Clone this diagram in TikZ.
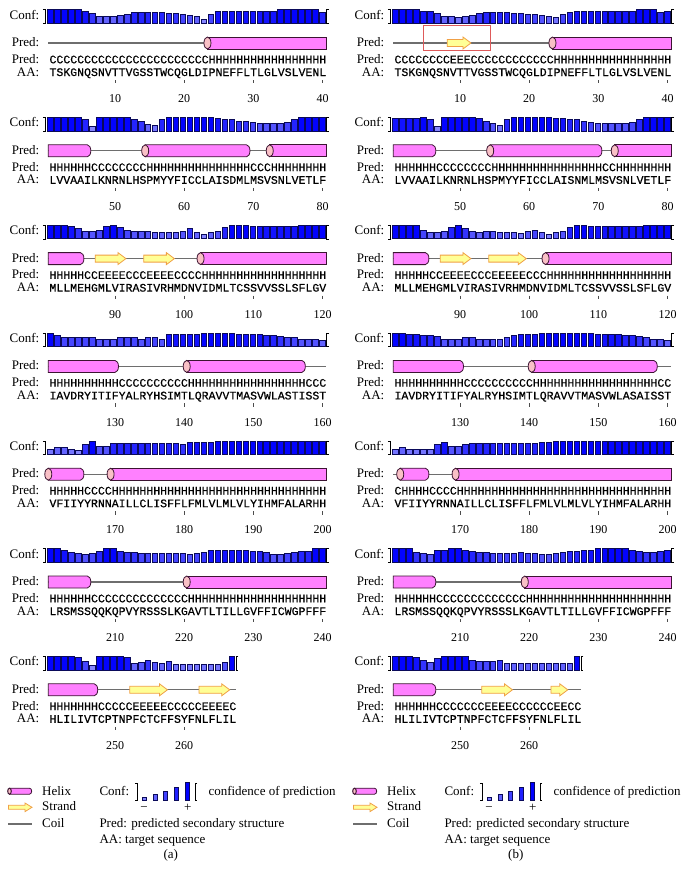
\documentclass[tikz,border=0pt]{standalone}
\usepackage{fontspec}
\setmainfont{Liberation Serif}
\newfontfamily\seqfont[FakeBold=0.6]{Liberation Mono}

\definecolor{helixpink}{RGB}{255,128,255}
\definecolor{cappink}{RGB}{249,192,198}
\definecolor{helixedge}{RGB}{60,20,50}
\definecolor{strandyellow}{RGB}{255,255,150}
\definecolor{strandedge}{RGB}{240,160,70}
\definecolor{coilgray}{RGB}{110,110,110}
\definecolor{barnavy}{RGB}{10,10,90}
\definecolor{boxred}{RGB}{222,90,90}

\tikzset{
  lbl/.style={font=\fontsize{13}{15}\selectfont, anchor=base east, inner sep=0pt},
  seq/.style={font=\seqfont\fontsize{11.53}{13}\selectfont, anchor=base west, inner sep=0pt},
  num/.style={font=\fontsize{12}{14}\selectfont, anchor=base, inner sep=0pt},
  legtext/.style={font=\fontsize{13}{15}\selectfont, anchor=base west, inner sep=0pt},
  confbar/.style={draw=barnavy, line width=0.6pt},
  helixbody/.style={fill=helixpink, draw=helixedge, line width=0.8pt},
  helixcap/.style={fill=cappink, draw=helixedge, line width=0.8pt},
  strandbody/.style={fill=strandyellow, draw=strandedge, line width=0.8pt},
  coilline/.style={draw=coilgray, line width=1.1pt},
  tickline/.style={draw=black!70, line width=0.7pt},
  bracketline/.style={draw=black, line width=0.7pt},
}

% confidence bars of one row: #1 values, #2 number of residues
\newcommand{\drawconf}[2]{%
  \foreach \cv [count=\bi] in {#1} {%
    \pgfmathtruncatemacro{\barpct}{42+6.4*\cv}%
    \filldraw[confbar, fill=blue!\barpct!white] ({47.7+(\bi-1)*6.97},7) rectangle ++(5.5,{-(3+1.15*\cv)});
  }%
  \draw[bracketline] (42.8,-6.3) -- (45,-6.3) -- (45,7.3) -- (42.8,7.3);
  \pgfmathsetmacro{\brx}{47.7+#2*6.97+0.3}%
  \draw[bracketline] ({\brx+2.2},-6.3) -- (\brx,-6.3) -- (\brx,7.3) -- ({\brx+2.2},7.3);
}

% one block: #1 panel, #2 row, #3 conf values, #4 residues, #5 pred, #6 sequence
\newcommand{\seqrow}[6]{%
  \node[lbl] (#1-conflbl-#2) at (39.5,3) {Conf:};
  \node[lbl] (#1-cartlbl-#2) at (39.5,30.5) {Pred:};
  \node[lbl] (#1-predlbl-#2) at (39.5,47.3) {Pred:};
  \node[lbl] (#1-aalbl-#2) at (39.5,60) {AA:};
  \drawconf{#3}{#4}
  \draw[coilline] (48,27) -- ({49.3+#4*6.92},27);
  \node[seq] (#1-pred-#2) at (49.3,47.3) {#5};
  \node[seq] (#1-aa-#2) at (49.3,60) {#6};
  \pgfmathtruncatemacro{\ntick}{#4/10}%
  \foreach \k in {1,...,\ntick} {%
    \pgfmathtruncatemacro{\numlab}{(#2-1)*40+10*\k}%
    \draw[tickline] ({52.76+(10*\k-1)*6.92},64) -- ++(0,3.3);
    \node[num] (#1-num-#2-\k) at ({52.76+(10*\k-1)*6.92},86.7) {\numlab};
  }%
}

% helix from residue #1 to #2, #3 = left cap, #4 = rounded end
\newcommand{\drawhelix}[4]{%
  \pgfmathsetmacro{\hxl}{49.3+(#1-1)*6.92-1}%
  \pgfmathsetmacro{\hxr}{49.3+#2*6.92}%
  \ifnum#4=1
    \filldraw[helixbody] (\hxl,21) -- ({\hxr-3.5},21) arc[start angle=-90, end angle=90, x radius=3.5, y radius=6] -- (\hxl,33) -- cycle;
  \else
    \filldraw[helixbody] (\hxl,21) rectangle (\hxr,33);
  \fi
  \ifnum#3=1
    \filldraw[helixcap] (\hxl,27) ellipse[x radius=3.5, y radius=6];
  \fi
}

% strand arrow from residue #1 to #2
\newcommand{\drawstrand}[2]{%
  \pgfmathsetmacro{\strl}{49.3+(#1-1)*6.92-2.5}%
  \pgfmathsetmacro{\strr}{49.3+#2*6.92+0.5}%
  \filldraw[strandbody] (\strl,23.5) -- ({\strr-8},23.5) -- ({\strr-8},21) -- (\strr,27)
    -- ({\strr-8},33) -- ({\strr-8},30.5) -- (\strl,30.5) -- cycle;
}

\begin{document}
\begin{tikzpicture}[x=1pt, y=-1pt]
  \useasboundingbox[fill=white] (0,0) rectangle (689,892);

  % ---------- (a) ----------
  \begin{scope}[shift={(0,16)}]
    \seqrow{a}{1}{9,9,9,9,9,8,6,3,3,3,4,5,7,7,7,7,7,6,6,5,4,3,1,5,8,8,8,8,8,8,8,8,8,9,9,9,9,9,9,7}{40}
      {CCCCCCCCCCCCCCCCCCCCCCCHHHHHHHHHHHHHHHHH}{TSKGNQSNVTTVGSSTWCQGLDIPNEFFLTLGLVSLVENL}
    \drawhelix{24}{40}{1}{0}
  \end{scope}
  \begin{scope}[shift={(0,123.8)}]
    \seqrow{a}{2}{9,9,9,9,9,7,1,9,9,9,9,9,7,6,3,2,7,9,9,9,9,9,9,9,8,7,7,6,6,5,4,4,4,4,5,7,9,9,9,9}{40}
      {HHHHHHCCCCCCCCHHHHHHHHHHHHHHHCCCHHHHHHHH}{LVVAAILKNRNLHSPMYYFICCLAISDMLMSVSNLVETLF}
    \drawhelix{1}{6}{0}{1}
    \drawhelix{15}{29}{1}{1}
    \drawhelix{33}{40}{1}{0}
  \end{scope}
  \begin{scope}[shift={(0,231.6)}]
    \seqrow{a}{3}{9,9,9,8,6,4,4,5,8,9,7,5,4,4,4,3,3,3,3,4,6,3,1,3,4,7,9,9,9,8,8,8,8,8,8,8,9,9,9,9}{40}
      {HHHHHCCEEEECCCEEEECCCCHHHHHHHHHHHHHHHHHH}{MLLMEHGMLVIRASIVRHMDNVIDMLTCSSVVSSLSFLGV}
    \drawhelix{1}{5}{0}{1}
    \drawstrand{8}{11}
    \drawstrand{15}{18}
    \drawhelix{23}{40}{1}{0}
  \end{scope}
  \begin{scope}[shift={(0,339.4)}]
    \seqrow{a}{4}{9,7,5,5,5,5,5,4,4,4,5,5,5,4,5,5,4,8,8,8,8,8,9,9,9,9,9,8,8,8,8,7,7,6,5,5,4,4,4,3}{40}
      {HHHHHHHHHHCCCCCCCCCCHHHHHHHHHHHHHHHHHCCC}{IAVDRYITIFYALRYHSIMTLQRAVVTMASVWLASTISST}
    \drawhelix{1}{10}{0}{1}
    \drawhelix{21}{37}{1}{1}
  \end{scope}
  \begin{scope}[shift={(0,447.2)}]
    \seqrow{a}{5}{2,3,3,2,1,6,9,4,4,7,7,7,7,7,7,7,7,7,7,6,8,8,8,8,9,9,9,9,9,9,9,9,9,9,9,9,9,9,9,9}{40}
      {HHHHHCCCCHHHHHHHHHHHHHHHHHHHHHHHHHHHHHHH}{VFIIYYRNNAILLCLISFFLFMLVLMLVLYIHMFALARHH}
    \drawhelix{1}{5}{1}{1}
    \drawhelix{10}{40}{1}{0}
  \end{scope}
  \begin{scope}[shift={(0,555)}]
    \seqrow{a}{6}{9,9,8,6,5,4,5,7,9,9,7,6,6,5,5,5,5,5,5,5,4,5,6,8,8,8,8,8,8,7,7,6,4,4,5,6,7,7,9,9}{40}
      {HHHHHHCCCCCCCCCCCCCCHHHHHHHHHHHHHHHHHHHH}{LRSMSSQQKQPVYRSSSLKGAVTLTILLGVFFICWGPFFF}
    \drawhelix{1}{6}{0}{1}
    \drawhelix{21}{40}{1}{0}
  \end{scope}
  \begin{scope}[shift={(0,662.8)}]
    \seqrow{a}{7}{9,9,9,9,8,5,1,9,9,9,9,8,3,4,6,4,3,5,2,2,2,2,2,2,2,4,9}{27}
      {HHHHHHHCCCCCEEEEECCCCCEEEEC}{HLILIVTCPTNPFCTCFFSYFNLFLIL}
    \drawhelix{1}{7}{0}{1}
    \drawstrand{13}{17}
    \drawstrand{23}{26}
  \end{scope}

  % ---------- (b) ----------
  \begin{scope}[shift={(345,16)}]
    \seqrow{b}{1}{9,9,9,9,8,8,6,3,3,2,3,4,6,7,7,7,7,6,6,5,5,4,3,2,5,7,8,8,8,8,8,8,8,8,8,9,9,9,7,8}{40}
      {CCCCCCCCEEECCCCCCCCCCCCHHHHHHHHHHHHHHHHH}{TSKGNQSNVTTVGSSTWCQGLDIPNEFFLTLGLVSLVENL}
    \drawstrand{9}{11}
    \drawhelix{24}{40}{1}{0}
  \end{scope}
  \begin{scope}[shift={(345,123.8)}]
    \seqrow{b}{2}{8,8,8,8,9,7,1,9,9,9,9,9,8,6,4,2,7,9,9,9,9,9,9,8,8,7,7,6,5,4,4,4,4,4,5,7,9,9,9,9}{40}
      {HHHHHHCCCCCCCCHHHHHHHHHHHHHHHHCCHHHHHHHH}{LVVAAILKNRNLHSPMYYFICCLAISNMLMSVSNLVETLF}
    \drawhelix{1}{6}{0}{1}
    \drawhelix{15}{30}{1}{1}
    \drawhelix{33}{40}{1}{0}
  \end{scope}
  \begin{scope}[shift={(345,231.6)}]
    \seqrow{b}{3}{9,9,9,9,5,3,3,4,7,9,6,4,3,4,4,3,3,3,2,4,5,3,1,3,4,7,9,9,8,8,8,8,8,8,8,8,9,9,9,9}{40}
      {HHHHHCCEEEECCCEEEEECCCHHHHHHHHHHHHHHHHHH}{MLLMEHGMLVIRASIVRHMDNVIDMLTCSSVVSSLSFLGV}
    \drawhelix{1}{5}{0}{1}
    \drawstrand{8}{11}
    \drawstrand{15}{19}
    \drawhelix{23}{40}{1}{0}
  \end{scope}
  \begin{scope}[shift={(345,339.4)}]
    \seqrow{b}{4}{9,9,8,8,7,7,6,4,4,4,5,5,4,4,4,4,5,7,8,8,8,9,9,9,9,9,9,9,9,8,8,8,8,7,7,6,5,4,4,3}{40}
      {HHHHHHHHHHCCCCCCCCCCHHHHHHHHHHHHHHHHHHCC}{IAVDRYITIFYALRYHSIMTLQRAVVTMASVWLASAISST}
    \drawhelix{1}{10}{0}{1}
    \drawhelix{21}{38}{1}{1}
  \end{scope}
  \begin{scope}[shift={(345,447.2)}]
    \seqrow{b}{5}{2,3,2,2,2,2,6,8,4,4,6,7,7,7,7,7,7,7,7,7,7,8,8,9,9,9,9,9,9,9,9,9,9,9,9,9,9,9,9,9}{40}
      {CHHHHCCCCHHHHHHHHHHHHHHHHHHHHHHHHHHHHHHH}{VFIIYYRNNAILLCLISFFLFMLVLMLVLYIHMFALARHH}
    \drawhelix{2}{5}{1}{1}
    \drawhelix{10}{40}{1}{0}
  \end{scope}
  \begin{scope}[shift={(345,555)}]
    \seqrow{b}{6}{9,9,9,6,5,4,8,8,9,9,8,7,6,6,5,5,5,5,6,5,5,4,4,5,6,7,7,8,8,9,9,9,9,9,8,7,6,6,7,8}{40}
      {HHHHHHCCCCCCCCCCCCCHHHHHHHHHHHHHHHHHHHHH}{LRSMSSQQKQPVYRSSSLKGAVTLTILLGVFFICWGPFFF}
    \drawhelix{1}{6}{0}{1}
    \drawhelix{20}{40}{1}{0}
  \end{scope}
  \begin{scope}[shift={(345,662.8)}]
    \seqrow{b}{7}{9,9,9,8,6,4,7,9,9,9,9,6,5,5,5,6,3,3,3,3,3,3,3,3,3,3,9}{27}
      {HHHHHHCCCCCCCEEEECCCCCCEECC}{HLILIVTCPTNPFCTCFFSYFNLFLIL}
    \drawhelix{1}{6}{0}{1}
    \drawstrand{14}{17}
    \drawstrand{24}{25}
  \end{scope}

  % marked strand in (b)
  \draw[boxred, line width=1pt] (423.3,25) rectangle (490,50);

  % ---------- legends ----------
  \foreach \p/\X/\cap in {a/0/(a), b/345/(b)} {
    \begin{scope}[shift={(\X,0)}]
      \filldraw[helixbody] (9.5,788.2) -- (29.5,788.2) arc[start angle=-90, end angle=90, x radius=2.2, y radius=3] -- (9.5,794.2) -- cycle;
      \filldraw[helixcap, line width=1pt] (9.5,791.2) ellipse[x radius=1.8, y radius=3];
      \filldraw[strandbody] (8.5,805.3) -- (25,805.3) -- (25,803) -- (32,807.3) -- (25,811.6) -- (25,809.3) -- (8.5,809.3) -- cycle;
      \draw[coilline] (8,824) -- (32,824);
      \node[legtext] (\p-helix) at (42,795) {Helix};
      \node[legtext] (\p-strand) at (42,810.7) {Strand};
      \node[legtext] (\p-coil) at (42,827.3) {Coil};
      \node[legtext] (\p-conf) at (99.3,795) {Conf:};
      \draw[bracketline] (134.8,783) -- (137,783) -- (137,800) -- (134.8,800);
      \foreach \bxc/\bh/\bp in {144/3/50, 155/6/62, 165.5/9/75, 176.7/13/88, 187.7/18/100}
        \filldraw[confbar, fill=blue!\bp!white] ({\bxc-2},800) rectangle ++(4,-\bh);
      \draw[bracketline] (197.2,783) -- (195,783) -- (195,800) -- (197.2,800);
      \node[legtext] (\p-confdesc) at (208.3,795) {confidence of prediction};
      \node[num, font=\fontsize{13}{15}\selectfont] (\p-minus) at (144,811) {−};
      \node[num, font=\fontsize{13}{15}\selectfont] (\p-plus) at (187.7,811) {+};
      \node[legtext] (\p-preddesc) at (99.3,827.3) {Pred: predicted secondary structure};
      \node[legtext] (\p-aadesc) at (99.3,843.3) {AA: target sequence};
      \node[num, font=\fontsize{13}{15}\selectfont] (\p-caption) at (170.8,858.5) {\cap};
    \end{scope}
  }
\end{tikzpicture}
\end{document}
